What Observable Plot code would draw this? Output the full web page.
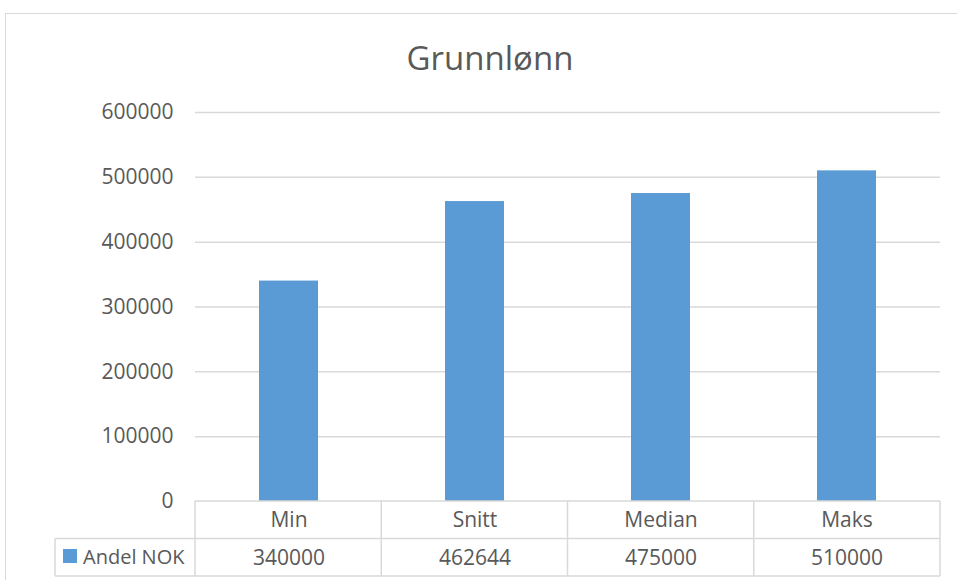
<!DOCTYPE html>
<html><head><meta charset="utf-8">
<script src="https://cdn.jsdelivr.net/npm/d3@7"></script>
<script src="https://cdn.jsdelivr.net/npm/@observablehq/plot@0.6"></script>
<style>body{margin:0;background:#fff}</style>
</head><body><div id="chart"></div>
<script>
const categories = ["Min", "Snitt", "Median", "Maks"];
const values = [340000, 462644, 475000, 510000];
const seriesName = "Andel NOK";
const title = "Grunnlønn";
const yTicks = [0, 100000, 200000, 300000, 400000, 500000, 600000];

const data = categories.map((c, i) => ({category: c, value: values[i]}));

const FONT = "'Open Sans', sans-serif";
const GRAY = "#595959";
const LINE = "#d9d9d9";
const BLUE = "#5b9bd5";
const W = 957, H = 580;
const mL = 195, mR = 17, mT = 112, mB = 79;
const pad = 0.683;

// decorative frame, data table grid lines and legend key
const tableMark = (index, scales, vals, dims) => {
  const g = d3.create("svg:g");
  const left = dims.marginLeft, right = dims.width - dims.marginRight;
  const y0 = dims.height - dims.marginBottom;
  const rowH = 37.5;
  const n = categories.length;
  const step = (right - left) / n;
  // outer chart border
  g.append("rect").attr("x", 5.5).attr("y", 13.5).attr("width", W + 10).attr("height", H + 10)
    .attr("fill", "none").attr("stroke", LINE).attr("stroke-width", 1);
  const line = (x1, y1, x2, y2) => g.append("line")
    .attr("x1", x1).attr("y1", y1).attr("x2", x2).attr("y2", y2)
    .attr("stroke", LINE).attr("stroke-width", 1.5);
  line(left, y0, right, y0);
  line(55, y0 + rowH, right, y0 + rowH);
  line(55, y0 + 2 * rowH, right, y0 + 2 * rowH);
  line(55, y0 + rowH, 55, y0 + 2 * rowH);
  for (let i = 0; i <= n; i++) line(left + i * step, y0, left + i * step, y0 + 2 * rowH);
  // legend key
  g.append("rect").attr("x", 63).attr("y", y0 + rowH + 10.5).attr("width", 14).attr("height", 14).attr("fill", BLUE);
  g.append("text").attr("x", 83).attr("y", y0 + rowH * 1.5).attr("dy", "0.35em")
    .attr("text-anchor", "start")
    .attr("fill", GRAY).attr("font-size", 20).attr("font-family", FONT).text(seriesName);
  return g.node();
};

const chart = Plot.plot({
  width: W, height: H,
  marginLeft: mL, marginRight: mR, marginTop: mT, marginBottom: mB,
  style: {fontFamily: FONT, color: GRAY, background: "#fff"},
  x: {domain: categories, paddingInner: pad, paddingOuter: pad / 2, axis: null},
  y: {domain: [0, 600000], axis: null},
  marks: [
    Plot.gridY(yTicks.slice(1), {stroke: LINE, strokeOpacity: 1, strokeWidth: 1.5}),
    Plot.axisY(yTicks, {tickSize: 0, tickPadding: 22, fontSize: 21, label: null, tickFormat: d3.format("d"), fill: GRAY}),
    Plot.barY(data, {x: "category", y: "value", fill: BLUE}),
    tableMark,
    Plot.text(data, {x: "category", y: () => 0, text: "category", dy: 19, fontSize: 21, fill: GRAY}),
    Plot.text(data, {x: "category", y: () => 0, text: d => String(d.value), dy: 56.5, fontSize: 21, fill: GRAY}),
    Plot.text([title], {frameAnchor: "top", lineAnchor: "middle", dx: -78, dy: -53, fontSize: 33, fill: GRAY})
  ]
});
document.getElementById("chart").appendChild(chart);
</script>
</body></html>
